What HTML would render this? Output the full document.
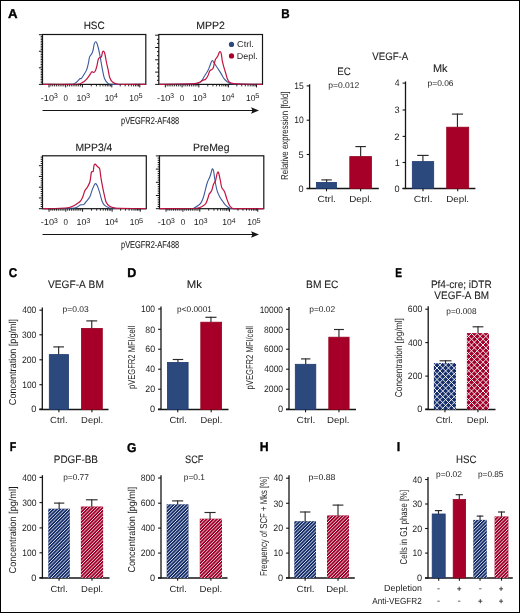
<!DOCTYPE html><html><head><meta charset="utf-8"><style>
html,body{margin:0;padding:0;background:#fff;}
svg{display:block;font-family:"Liberation Sans", sans-serif;will-change:transform;} text{font-kerning:none;text-rendering:geometricPrecision;}
</style></head><body>
<svg width="520" height="613" viewBox="0 0 520 613" font-family='"Liberation Sans", sans-serif' fill="#1c1c1c">
<defs>
</defs>
<rect x="0" y="0" width="520" height="613" fill="#fff"/>
<text x="8.12" y="17.65" font-size="12.8" textLength="9.58" lengthAdjust="spacingAndGlyphs" font-weight="bold" fill="#000" stroke="#000" stroke-width="0.35">A</text>
<text x="281.17" y="17.65" font-size="12.8" textLength="8.41" lengthAdjust="spacingAndGlyphs" font-weight="bold" fill="#000" stroke="#000" stroke-width="0.35">B</text>
<text x="8.67" y="276.65" font-size="12.8" textLength="8.39" lengthAdjust="spacingAndGlyphs" font-weight="bold" fill="#000" stroke="#000" stroke-width="0.35">C</text>
<text x="127.31" y="276.65" font-size="12.8" textLength="9.07" lengthAdjust="spacingAndGlyphs" font-weight="bold" fill="#000" stroke="#000" stroke-width="0.35">D</text>
<text x="395.37" y="276.65" font-size="12.8" textLength="6.78" lengthAdjust="spacingAndGlyphs" font-weight="bold" fill="#000" stroke="#000" stroke-width="0.35">E</text>
<text x="9.64" y="451.35" font-size="12.8" textLength="6.50" lengthAdjust="spacingAndGlyphs" font-weight="bold" fill="#000" stroke="#000" stroke-width="0.35">F</text>
<text x="127.05" y="451.55" font-size="12.8" textLength="9.45" lengthAdjust="spacingAndGlyphs" font-weight="bold" fill="#000" stroke="#000" stroke-width="0.35">G</text>
<text x="259.63" y="451.45" font-size="12.8" textLength="8.84" lengthAdjust="spacingAndGlyphs" font-weight="bold" fill="#000" stroke="#000" stroke-width="0.35">H</text>
<text x="396.71" y="451.45" font-size="12.8" textLength="3.47" lengthAdjust="spacingAndGlyphs" font-weight="bold" fill="#000" stroke="#000" stroke-width="0.35">I</text>
<text x="48.06" y="287.80" font-size="10.8" textLength="55.78" lengthAdjust="spacingAndGlyphs" stroke="#1c1c1c" stroke-width="0.1">VEGF-A BM</text>
<line x1="42.30" y1="307.50" x2="42.30" y2="410.00" stroke="#151515" stroke-width="1.3"/>
<line x1="39.30" y1="409.40" x2="108.50" y2="409.40" stroke="#151515" stroke-width="1.45"/>
<line x1="39.40" y1="310.20" x2="42.30" y2="310.20" stroke="#151515" stroke-width="1.1"/>
<text x="22.20" y="313.40" font-size="9.3" textLength="14.14" lengthAdjust="spacingAndGlyphs" >400</text>
<line x1="39.40" y1="334.80" x2="42.30" y2="334.80" stroke="#151515" stroke-width="1.1"/>
<text x="22.06" y="338.00" font-size="9.3" textLength="14.27" lengthAdjust="spacingAndGlyphs" >300</text>
<line x1="39.40" y1="359.80" x2="42.30" y2="359.80" stroke="#151515" stroke-width="1.1"/>
<text x="21.96" y="363.00" font-size="9.3" textLength="14.38" lengthAdjust="spacingAndGlyphs" >200</text>
<line x1="39.40" y1="384.70" x2="42.30" y2="384.70" stroke="#151515" stroke-width="1.1"/>
<text x="22.25" y="387.90" font-size="9.3" textLength="14.08" lengthAdjust="spacingAndGlyphs" >100</text>
<line x1="39.40" y1="409.10" x2="42.30" y2="409.10" stroke="#151515" stroke-width="1.1"/>
<text x="31.27" y="412.30" font-size="9.3" textLength="5.08" lengthAdjust="spacingAndGlyphs" >0</text>
<rect x="49.30" y="354.60" width="19.20" height="54.80" fill="#2c497d" stroke="#1f3a72" stroke-width="0.8"/>
<line x1="58.65" y1="346.40" x2="58.65" y2="354.50" stroke="#2a2a2a" stroke-width="1.15"/>
<line x1="53.30" y1="346.90" x2="64.00" y2="346.90" stroke="#2a2a2a" stroke-width="1.15"/>
<line x1="58.90" y1="409.40" x2="58.90" y2="412.20" stroke="#151515" stroke-width="1.1"/>
<rect x="81.50" y="328.40" width="20.80" height="81.00" fill="#a70028" stroke="#96001f" stroke-width="0.8"/>
<line x1="91.75" y1="320.40" x2="91.75" y2="328.30" stroke="#2a2a2a" stroke-width="1.15"/>
<line x1="86.30" y1="320.90" x2="97.20" y2="320.90" stroke="#2a2a2a" stroke-width="1.15"/>
<line x1="91.90" y1="409.40" x2="91.90" y2="412.20" stroke="#151515" stroke-width="1.1"/>
<text x="50.11" y="423.30" font-size="8.9" textLength="17.56" lengthAdjust="spacingAndGlyphs" >Ctrl.</text>
<text x="81.13" y="423.30" font-size="8.9" textLength="21.93" lengthAdjust="spacingAndGlyphs" >Depl.</text>
<text x="62.55" y="312.00" font-size="8.3" textLength="26.12" lengthAdjust="spacingAndGlyphs" >p=0.03</text>
<text transform="translate(15.90,404.70) rotate(-90)" x="-0.46" y="0" font-size="10" textLength="86.21" lengthAdjust="spacingAndGlyphs">Concentration [pg/ml]</text>
<text x="186.87" y="287.60" font-size="10.8" textLength="15.11" lengthAdjust="spacingAndGlyphs" stroke="#1c1c1c" stroke-width="0.1">Mk</text>
<line x1="161.00" y1="306.60" x2="161.00" y2="410.00" stroke="#151515" stroke-width="1.3"/>
<line x1="158.00" y1="409.40" x2="228.50" y2="409.40" stroke="#151515" stroke-width="1.45"/>
<line x1="158.10" y1="309.00" x2="161.00" y2="309.00" stroke="#151515" stroke-width="1.1"/>
<text x="140.95" y="312.20" font-size="9.3" textLength="14.08" lengthAdjust="spacingAndGlyphs" >100</text>
<line x1="158.10" y1="329.30" x2="161.00" y2="329.30" stroke="#151515" stroke-width="1.1"/>
<text x="145.33" y="332.50" font-size="9.3" textLength="9.71" lengthAdjust="spacingAndGlyphs" >80</text>
<line x1="158.10" y1="349.20" x2="161.00" y2="349.20" stroke="#151515" stroke-width="1.1"/>
<text x="145.26" y="352.40" font-size="9.3" textLength="9.78" lengthAdjust="spacingAndGlyphs" >60</text>
<line x1="158.10" y1="369.20" x2="161.00" y2="369.20" stroke="#151515" stroke-width="1.1"/>
<text x="145.51" y="372.40" font-size="9.3" textLength="9.52" lengthAdjust="spacingAndGlyphs" >40</text>
<line x1="158.10" y1="389.20" x2="161.00" y2="389.20" stroke="#151515" stroke-width="1.1"/>
<text x="145.27" y="392.40" font-size="9.3" textLength="9.78" lengthAdjust="spacingAndGlyphs" >20</text>
<line x1="158.10" y1="409.10" x2="161.00" y2="409.10" stroke="#151515" stroke-width="1.1"/>
<text x="149.97" y="412.30" font-size="9.3" textLength="5.08" lengthAdjust="spacingAndGlyphs" >0</text>
<rect x="167.40" y="362.40" width="20.70" height="47.00" fill="#2c497d" stroke="#1f3a72" stroke-width="0.8"/>
<line x1="177.95" y1="359.00" x2="177.95" y2="362.30" stroke="#2a2a2a" stroke-width="1.15"/>
<line x1="172.70" y1="359.50" x2="183.20" y2="359.50" stroke="#2a2a2a" stroke-width="1.15"/>
<line x1="177.75" y1="409.40" x2="177.75" y2="412.20" stroke="#151515" stroke-width="1.1"/>
<rect x="200.80" y="322.20" width="20.80" height="87.20" fill="#a70028" stroke="#96001f" stroke-width="0.8"/>
<line x1="210.95" y1="316.80" x2="210.95" y2="322.10" stroke="#2a2a2a" stroke-width="1.15"/>
<line x1="205.40" y1="317.30" x2="216.50" y2="317.30" stroke="#2a2a2a" stroke-width="1.15"/>
<line x1="211.20" y1="409.40" x2="211.20" y2="412.20" stroke="#151515" stroke-width="1.1"/>
<text x="169.42" y="423.30" font-size="8.9" textLength="17.45" lengthAdjust="spacingAndGlyphs" >Ctrl.</text>
<text x="200.43" y="423.30" font-size="8.9" textLength="21.82" lengthAdjust="spacingAndGlyphs" >Depl.</text>
<text x="177.07" y="312.00" font-size="8.3" textLength="34.84" lengthAdjust="spacingAndGlyphs" >p&lt;0.0001</text>
<text transform="translate(134.60,388.50) rotate(-90)" x="-0.49" y="0" font-size="10" textLength="63.20" lengthAdjust="spacingAndGlyphs">pVEGFR2 MFI/cell</text>
<text x="306.06" y="287.50" font-size="10.8" textLength="32.43" lengthAdjust="spacingAndGlyphs" stroke="#1c1c1c" stroke-width="0.1">BM EC</text>
<line x1="289.00" y1="307.10" x2="289.00" y2="410.00" stroke="#151515" stroke-width="1.3"/>
<line x1="286.00" y1="409.40" x2="356.00" y2="409.40" stroke="#151515" stroke-width="1.45"/>
<line x1="286.10" y1="309.30" x2="289.00" y2="309.30" stroke="#151515" stroke-width="1.1"/>
<text x="259.71" y="312.50" font-size="9.3" textLength="23.32" lengthAdjust="spacingAndGlyphs" >10000</text>
<line x1="286.10" y1="329.30" x2="289.00" y2="329.30" stroke="#151515" stroke-width="1.1"/>
<text x="264.10" y="332.50" font-size="9.3" textLength="18.93" lengthAdjust="spacingAndGlyphs" >8000</text>
<line x1="286.10" y1="349.20" x2="289.00" y2="349.20" stroke="#151515" stroke-width="1.1"/>
<text x="264.04" y="352.40" font-size="9.3" textLength="19.00" lengthAdjust="spacingAndGlyphs" >6000</text>
<line x1="286.10" y1="369.20" x2="289.00" y2="369.20" stroke="#151515" stroke-width="1.1"/>
<text x="264.28" y="372.40" font-size="9.3" textLength="18.75" lengthAdjust="spacingAndGlyphs" >4000</text>
<line x1="286.10" y1="389.20" x2="289.00" y2="389.20" stroke="#151515" stroke-width="1.1"/>
<text x="264.04" y="392.40" font-size="9.3" textLength="18.99" lengthAdjust="spacingAndGlyphs" >2000</text>
<line x1="286.10" y1="409.10" x2="289.00" y2="409.10" stroke="#151515" stroke-width="1.1"/>
<text x="277.97" y="412.30" font-size="9.3" textLength="5.08" lengthAdjust="spacingAndGlyphs" >0</text>
<rect x="295.30" y="364.30" width="20.50" height="45.10" fill="#2c497d" stroke="#1f3a72" stroke-width="0.8"/>
<line x1="305.70" y1="358.40" x2="305.70" y2="364.20" stroke="#2a2a2a" stroke-width="1.15"/>
<line x1="301.00" y1="358.90" x2="310.40" y2="358.90" stroke="#2a2a2a" stroke-width="1.15"/>
<line x1="305.55" y1="409.40" x2="305.55" y2="412.20" stroke="#151515" stroke-width="1.1"/>
<rect x="328.80" y="337.20" width="20.30" height="72.20" fill="#a70028" stroke="#96001f" stroke-width="0.8"/>
<line x1="338.95" y1="329.00" x2="338.95" y2="337.10" stroke="#2a2a2a" stroke-width="1.15"/>
<line x1="334.00" y1="329.50" x2="343.90" y2="329.50" stroke="#2a2a2a" stroke-width="1.15"/>
<line x1="338.95" y1="409.40" x2="338.95" y2="412.20" stroke="#151515" stroke-width="1.1"/>
<text x="296.58" y="423.30" font-size="8.9" textLength="18.65" lengthAdjust="spacingAndGlyphs" >Ctrl.</text>
<text x="327.01" y="423.30" font-size="8.9" textLength="22.47" lengthAdjust="spacingAndGlyphs" >Depl.</text>
<text x="309.26" y="312.00" font-size="8.3" textLength="25.97" lengthAdjust="spacingAndGlyphs" >p=0.02</text>
<text transform="translate(252.80,388.90) rotate(-90)" x="-0.49" y="0" font-size="10" textLength="63.40" lengthAdjust="spacingAndGlyphs">pVEGFR2 MFI/cell</text>
<text x="430.88" y="287.80" font-size="10.8" textLength="60.79" lengthAdjust="spacingAndGlyphs" stroke="#1c1c1c" stroke-width="0.1">Pf4-cre; iDTR</text>
<text x="434.36" y="299.20" font-size="10.8" textLength="54.76" lengthAdjust="spacingAndGlyphs" stroke="#1c1c1c" stroke-width="0.1">VEGF-A BM</text>
<line x1="428.20" y1="306.30" x2="428.20" y2="410.10" stroke="#151515" stroke-width="1.3"/>
<line x1="425.20" y1="409.50" x2="495.50" y2="409.50" stroke="#151515" stroke-width="1.45"/>
<line x1="425.30" y1="309.20" x2="428.20" y2="309.20" stroke="#151515" stroke-width="1.1"/>
<text x="407.85" y="312.40" font-size="9.3" textLength="14.38" lengthAdjust="spacingAndGlyphs" >600</text>
<line x1="425.30" y1="342.60" x2="428.20" y2="342.60" stroke="#151515" stroke-width="1.1"/>
<text x="408.10" y="345.80" font-size="9.3" textLength="14.14" lengthAdjust="spacingAndGlyphs" >400</text>
<line x1="425.30" y1="376.10" x2="428.20" y2="376.10" stroke="#151515" stroke-width="1.1"/>
<text x="407.86" y="379.30" font-size="9.3" textLength="14.38" lengthAdjust="spacingAndGlyphs" >200</text>
<line x1="425.30" y1="409.10" x2="428.20" y2="409.10" stroke="#151515" stroke-width="1.1"/>
<text x="417.17" y="412.30" font-size="9.3" textLength="5.08" lengthAdjust="spacingAndGlyphs" >0</text>
<clipPath id="c1"><rect x="433.90" y="363.10" width="22.10" height="46.40"/></clipPath>
<rect x="433.90" y="363.10" width="22.10" height="46.40" fill="#17306c"/>
<g clip-path="url(#c1)"><path d="M377.25,410.50L425.65,362.10M383.00,410.50L431.40,362.10M388.75,410.50L437.15,362.10M394.50,410.50L442.90,362.10M400.25,410.50L448.65,362.10M406.00,410.50L454.40,362.10M411.75,410.50L460.15,362.10M417.50,410.50L465.90,362.10M423.25,410.50L471.65,362.10M429.00,410.50L477.40,362.10M434.75,410.50L483.15,362.10M440.50,410.50L488.90,362.10M446.25,410.50L494.65,362.10M452.00,410.50L500.40,362.10M457.75,410.50L506.15,362.10M379.35,362.10L427.75,410.50M385.10,362.10L433.50,410.50M390.85,362.10L439.25,410.50M396.60,362.10L445.00,410.50M402.35,362.10L450.75,410.50M408.10,362.10L456.50,410.50M413.85,362.10L462.25,410.50M419.60,362.10L468.00,410.50M425.35,362.10L473.75,410.50M431.10,362.10L479.50,410.50M436.85,362.10L485.25,410.50M442.60,362.10L491.00,410.50M448.35,362.10L496.75,410.50M454.10,362.10L502.50,410.50M459.85,362.10L508.25,410.50" stroke="#f4f5f9" stroke-width="0.95" fill="none"/></g>
<line x1="445.55" y1="360.30" x2="445.55" y2="363.40" stroke="#2a2a2a" stroke-width="1.15"/>
<line x1="439.60" y1="360.80" x2="451.50" y2="360.80" stroke="#2a2a2a" stroke-width="1.15"/>
<line x1="444.95" y1="409.50" x2="444.95" y2="412.30" stroke="#151515" stroke-width="1.1"/>
<clipPath id="c2"><rect x="466.90" y="333.10" width="22.10" height="76.40"/></clipPath>
<rect x="466.90" y="333.10" width="22.10" height="76.40" fill="#a3002a"/>
<g clip-path="url(#c2)"><path d="M383.00,410.50L461.40,332.10M388.75,410.50L467.15,332.10M394.50,410.50L472.90,332.10M400.25,410.50L478.65,332.10M406.00,410.50L484.40,332.10M411.75,410.50L490.15,332.10M417.50,410.50L495.90,332.10M423.25,410.50L501.65,332.10M429.00,410.50L507.40,332.10M434.75,410.50L513.15,332.10M440.50,410.50L518.90,332.10M446.25,410.50L524.65,332.10M452.00,410.50L530.40,332.10M457.75,410.50L536.15,332.10M463.50,410.50L541.90,332.10M469.25,410.50L547.65,332.10M475.00,410.50L553.40,332.10M480.75,410.50L559.15,332.10M486.50,410.50L564.90,332.10M492.25,410.50L570.65,332.10M378.10,332.10L456.50,410.50M383.85,332.10L462.25,410.50M389.60,332.10L468.00,410.50M395.35,332.10L473.75,410.50M401.10,332.10L479.50,410.50M406.85,332.10L485.25,410.50M412.60,332.10L491.00,410.50M418.35,332.10L496.75,410.50M424.10,332.10L502.50,410.50M429.85,332.10L508.25,410.50M435.60,332.10L514.00,410.50M441.35,332.10L519.75,410.50M447.10,332.10L525.50,410.50M452.85,332.10L531.25,410.50M458.60,332.10L537.00,410.50M464.35,332.10L542.75,410.50M470.10,332.10L548.50,410.50M475.85,332.10L554.25,410.50M481.60,332.10L560.00,410.50M487.35,332.10L565.75,410.50M493.10,332.10L571.50,410.50" stroke="#f4f5f9" stroke-width="0.95" fill="none"/></g>
<line x1="478.00" y1="326.30" x2="478.00" y2="333.40" stroke="#2a2a2a" stroke-width="1.15"/>
<line x1="472.60" y1="326.80" x2="483.40" y2="326.80" stroke="#2a2a2a" stroke-width="1.15"/>
<line x1="477.95" y1="409.50" x2="477.95" y2="412.30" stroke="#151515" stroke-width="1.1"/>
<text x="435.72" y="423.30" font-size="8.9" textLength="17.24" lengthAdjust="spacingAndGlyphs" >Ctrl.</text>
<text x="466.72" y="423.30" font-size="8.9" textLength="22.25" lengthAdjust="spacingAndGlyphs" >Depl.</text>
<text x="446.37" y="313.80" font-size="8.3" textLength="30.19" lengthAdjust="spacingAndGlyphs" >p=0.008</text>
<text transform="translate(401.50,396.80) rotate(-90)" x="-0.42" y="0" font-size="10" textLength="79.01" lengthAdjust="spacingAndGlyphs">Concentration [pg/ml]</text>
<text x="53.78" y="462.70" font-size="10.8" textLength="44.24" lengthAdjust="spacingAndGlyphs" stroke="#1c1c1c" stroke-width="0.1">PDGF-BB</text>
<line x1="42.40" y1="475.20" x2="42.40" y2="578.50" stroke="#151515" stroke-width="1.3"/>
<line x1="39.40" y1="577.90" x2="109.50" y2="577.90" stroke="#151515" stroke-width="1.45"/>
<line x1="39.50" y1="477.40" x2="42.40" y2="477.40" stroke="#151515" stroke-width="1.1"/>
<text x="22.30" y="480.60" font-size="9.3" textLength="14.14" lengthAdjust="spacingAndGlyphs" >400</text>
<line x1="39.50" y1="502.60" x2="42.40" y2="502.60" stroke="#151515" stroke-width="1.1"/>
<text x="22.16" y="505.80" font-size="9.3" textLength="14.27" lengthAdjust="spacingAndGlyphs" >300</text>
<line x1="39.50" y1="527.90" x2="42.40" y2="527.90" stroke="#151515" stroke-width="1.1"/>
<text x="22.06" y="531.10" font-size="9.3" textLength="14.38" lengthAdjust="spacingAndGlyphs" >200</text>
<line x1="39.50" y1="552.80" x2="42.40" y2="552.80" stroke="#151515" stroke-width="1.1"/>
<text x="22.35" y="556.00" font-size="9.3" textLength="14.08" lengthAdjust="spacingAndGlyphs" >100</text>
<line x1="39.50" y1="577.70" x2="42.40" y2="577.70" stroke="#151515" stroke-width="1.1"/>
<text x="31.37" y="580.90" font-size="9.3" textLength="5.08" lengthAdjust="spacingAndGlyphs" >0</text>
<clipPath id="c3"><rect x="48.30" y="508.70" width="21.50" height="69.20"/></clipPath>
<rect x="48.30" y="508.70" width="21.50" height="69.20" fill="#17306c"/>
<g clip-path="url(#c3)"><path d="M-28.10,578.90L43.10,507.70M-24.70,578.90L46.50,507.70M-21.30,578.90L49.90,507.70M-17.90,578.90L53.30,507.70M-14.50,578.90L56.70,507.70M-11.10,578.90L60.10,507.70M-7.70,578.90L63.50,507.70M-4.30,578.90L66.90,507.70M-0.90,578.90L70.30,507.70M2.50,578.90L73.70,507.70M5.90,578.90L77.10,507.70M9.30,578.90L80.50,507.70M12.70,578.90L83.90,507.70M16.10,578.90L87.30,507.70M19.50,578.90L90.70,507.70M22.90,578.90L94.10,507.70M26.30,578.90L97.50,507.70M29.70,578.90L100.90,507.70M33.10,578.90L104.30,507.70M36.50,578.90L107.70,507.70M39.90,578.90L111.10,507.70M43.30,578.90L114.50,507.70M46.70,578.90L117.90,507.70M50.10,578.90L121.30,507.70M53.50,578.90L124.70,507.70M56.90,578.90L128.10,507.70M60.30,578.90L131.50,507.70M63.70,578.90L134.90,507.70M67.10,578.90L138.30,507.70M70.50,578.90L141.70,507.70" stroke="#f4f5f9" stroke-width="0.87" fill="none"/></g>
<line x1="59.15" y1="502.60" x2="59.15" y2="509.00" stroke="#2a2a2a" stroke-width="1.15"/>
<line x1="54.00" y1="503.10" x2="64.30" y2="503.10" stroke="#2a2a2a" stroke-width="1.15"/>
<line x1="59.05" y1="577.90" x2="59.05" y2="580.70" stroke="#151515" stroke-width="1.1"/>
<clipPath id="c4"><rect x="80.90" y="506.50" width="22.20" height="71.40"/></clipPath>
<rect x="80.90" y="506.50" width="22.20" height="71.40" fill="#a3002a"/>
<g clip-path="url(#c4)"><path d="M2.50,578.90L75.90,505.50M5.90,578.90L79.30,505.50M9.30,578.90L82.70,505.50M12.70,578.90L86.10,505.50M16.10,578.90L89.50,505.50M19.50,578.90L92.90,505.50M22.90,578.90L96.30,505.50M26.30,578.90L99.70,505.50M29.70,578.90L103.10,505.50M33.10,578.90L106.50,505.50M36.50,578.90L109.90,505.50M39.90,578.90L113.30,505.50M43.30,578.90L116.70,505.50M46.70,578.90L120.10,505.50M50.10,578.90L123.50,505.50M53.50,578.90L126.90,505.50M56.90,578.90L130.30,505.50M60.30,578.90L133.70,505.50M63.70,578.90L137.10,505.50M67.10,578.90L140.50,505.50M70.50,578.90L143.90,505.50M73.90,578.90L147.30,505.50M77.30,578.90L150.70,505.50M80.70,578.90L154.10,505.50M84.10,578.90L157.50,505.50M87.50,578.90L160.90,505.50M90.90,578.90L164.30,505.50M94.30,578.90L167.70,505.50M97.70,578.90L171.10,505.50M101.10,578.90L174.50,505.50M104.50,578.90L177.90,505.50" stroke="#f4f5f9" stroke-width="0.87" fill="none"/></g>
<line x1="91.75" y1="499.30" x2="91.75" y2="506.80" stroke="#2a2a2a" stroke-width="1.15"/>
<line x1="85.90" y1="499.80" x2="97.60" y2="499.80" stroke="#2a2a2a" stroke-width="1.15"/>
<line x1="92.00" y1="577.90" x2="92.00" y2="580.70" stroke="#151515" stroke-width="1.1"/>
<text x="50.52" y="591.80" font-size="8.9" textLength="17.24" lengthAdjust="spacingAndGlyphs" >Ctrl.</text>
<text x="81.13" y="591.80" font-size="8.9" textLength="22.04" lengthAdjust="spacingAndGlyphs" >Depl.</text>
<text x="63.16" y="480.10" font-size="8.3" textLength="25.65" lengthAdjust="spacingAndGlyphs" >p=0.77</text>
<text transform="translate(15.90,573.00) rotate(-90)" x="-0.46" y="0" font-size="10" textLength="87.02" lengthAdjust="spacingAndGlyphs">Concentration [pg/ml]</text>
<text x="185.08" y="462.70" font-size="10.8" textLength="18.39" lengthAdjust="spacingAndGlyphs" stroke="#1c1c1c" stroke-width="0.1">SCF</text>
<line x1="161.00" y1="475.20" x2="161.00" y2="578.60" stroke="#151515" stroke-width="1.3"/>
<line x1="158.00" y1="578.00" x2="227.50" y2="578.00" stroke="#151515" stroke-width="1.45"/>
<line x1="158.10" y1="478.00" x2="161.00" y2="478.00" stroke="#151515" stroke-width="1.1"/>
<text x="140.72" y="481.20" font-size="9.3" textLength="14.32" lengthAdjust="spacingAndGlyphs" >800</text>
<line x1="158.10" y1="503.20" x2="161.00" y2="503.20" stroke="#151515" stroke-width="1.1"/>
<text x="140.65" y="506.40" font-size="9.3" textLength="14.38" lengthAdjust="spacingAndGlyphs" >600</text>
<line x1="158.10" y1="528.10" x2="161.00" y2="528.10" stroke="#151515" stroke-width="1.1"/>
<text x="140.90" y="531.30" font-size="9.3" textLength="14.14" lengthAdjust="spacingAndGlyphs" >400</text>
<line x1="158.10" y1="553.10" x2="161.00" y2="553.10" stroke="#151515" stroke-width="1.1"/>
<text x="140.66" y="556.30" font-size="9.3" textLength="14.38" lengthAdjust="spacingAndGlyphs" >200</text>
<line x1="158.10" y1="577.80" x2="161.00" y2="577.80" stroke="#151515" stroke-width="1.1"/>
<text x="149.97" y="581.00" font-size="9.3" textLength="5.08" lengthAdjust="spacingAndGlyphs" >0</text>
<clipPath id="c5"><rect x="166.70" y="504.30" width="21.80" height="73.70"/></clipPath>
<rect x="166.70" y="504.30" width="21.80" height="73.70" fill="#17306c"/>
<g clip-path="url(#c5)"><path d="M87.40,579.00L163.10,503.30M90.80,579.00L166.50,503.30M94.20,579.00L169.90,503.30M97.60,579.00L173.30,503.30M101.00,579.00L176.70,503.30M104.40,579.00L180.10,503.30M107.80,579.00L183.50,503.30M111.20,579.00L186.90,503.30M114.60,579.00L190.30,503.30M118.00,579.00L193.70,503.30M121.40,579.00L197.10,503.30M124.80,579.00L200.50,503.30M128.20,579.00L203.90,503.30M131.60,579.00L207.30,503.30M135.00,579.00L210.70,503.30M138.40,579.00L214.10,503.30M141.80,579.00L217.50,503.30M145.20,579.00L220.90,503.30M148.60,579.00L224.30,503.30M152.00,579.00L227.70,503.30M155.40,579.00L231.10,503.30M158.80,579.00L234.50,503.30M162.20,579.00L237.90,503.30M165.60,579.00L241.30,503.30M169.00,579.00L244.70,503.30M172.40,579.00L248.10,503.30M175.80,579.00L251.50,503.30M179.20,579.00L254.90,503.30M182.60,579.00L258.30,503.30M186.00,579.00L261.70,503.30M189.40,579.00L265.10,503.30" stroke="#f4f5f9" stroke-width="0.87" fill="none"/></g>
<line x1="177.65" y1="500.40" x2="177.65" y2="504.60" stroke="#2a2a2a" stroke-width="1.15"/>
<line x1="172.10" y1="500.90" x2="183.20" y2="500.90" stroke="#2a2a2a" stroke-width="1.15"/>
<line x1="177.60" y1="578.00" x2="177.60" y2="580.80" stroke="#151515" stroke-width="1.1"/>
<clipPath id="c6"><rect x="199.80" y="518.70" width="22.20" height="59.30"/></clipPath>
<rect x="199.80" y="518.70" width="22.20" height="59.30" fill="#a3002a"/>
<g clip-path="url(#c6)"><path d="M135.00,579.00L196.30,517.70M138.40,579.00L199.70,517.70M141.80,579.00L203.10,517.70M145.20,579.00L206.50,517.70M148.60,579.00L209.90,517.70M152.00,579.00L213.30,517.70M155.40,579.00L216.70,517.70M158.80,579.00L220.10,517.70M162.20,579.00L223.50,517.70M165.60,579.00L226.90,517.70M169.00,579.00L230.30,517.70M172.40,579.00L233.70,517.70M175.80,579.00L237.10,517.70M179.20,579.00L240.50,517.70M182.60,579.00L243.90,517.70M186.00,579.00L247.30,517.70M189.40,579.00L250.70,517.70M192.80,579.00L254.10,517.70M196.20,579.00L257.50,517.70M199.60,579.00L260.90,517.70M203.00,579.00L264.30,517.70M206.40,579.00L267.70,517.70M209.80,579.00L271.10,517.70M213.20,579.00L274.50,517.70M216.60,579.00L277.90,517.70M220.00,579.00L281.30,517.70M223.40,579.00L284.70,517.70" stroke="#f4f5f9" stroke-width="0.87" fill="none"/></g>
<line x1="210.05" y1="512.00" x2="210.05" y2="519.00" stroke="#2a2a2a" stroke-width="1.15"/>
<line x1="204.50" y1="512.50" x2="215.60" y2="512.50" stroke="#2a2a2a" stroke-width="1.15"/>
<line x1="210.90" y1="578.00" x2="210.90" y2="580.80" stroke="#151515" stroke-width="1.1"/>
<text x="169.42" y="591.80" font-size="8.9" textLength="17.45" lengthAdjust="spacingAndGlyphs" >Ctrl.</text>
<text x="199.61" y="591.80" font-size="8.9" textLength="22.47" lengthAdjust="spacingAndGlyphs" >Depl.</text>
<text x="183.76" y="480.10" font-size="8.3" textLength="21.15" lengthAdjust="spacingAndGlyphs" >p=0.1</text>
<text transform="translate(134.70,572.00) rotate(-90)" x="-0.46" y="0" font-size="10" textLength="85.80" lengthAdjust="spacingAndGlyphs">Concentration [pg/ml]</text>
<line x1="289.00" y1="475.20" x2="289.00" y2="578.60" stroke="#151515" stroke-width="1.3"/>
<line x1="286.00" y1="578.00" x2="354.80" y2="578.00" stroke="#151515" stroke-width="1.45"/>
<line x1="286.10" y1="478.20" x2="289.00" y2="478.20" stroke="#151515" stroke-width="1.1"/>
<text x="273.51" y="481.40" font-size="9.3" textLength="9.52" lengthAdjust="spacingAndGlyphs" >40</text>
<line x1="286.10" y1="503.30" x2="289.00" y2="503.30" stroke="#151515" stroke-width="1.1"/>
<text x="273.38" y="506.50" font-size="9.3" textLength="9.66" lengthAdjust="spacingAndGlyphs" >30</text>
<line x1="286.10" y1="528.20" x2="289.00" y2="528.20" stroke="#151515" stroke-width="1.1"/>
<text x="273.27" y="531.40" font-size="9.3" textLength="9.78" lengthAdjust="spacingAndGlyphs" >20</text>
<line x1="286.10" y1="553.10" x2="289.00" y2="553.10" stroke="#151515" stroke-width="1.1"/>
<text x="273.56" y="556.30" font-size="9.3" textLength="9.47" lengthAdjust="spacingAndGlyphs" >10</text>
<line x1="286.10" y1="577.80" x2="289.00" y2="577.80" stroke="#151515" stroke-width="1.1"/>
<text x="277.97" y="581.00" font-size="9.3" textLength="5.08" lengthAdjust="spacingAndGlyphs" >0</text>
<clipPath id="c7"><rect x="294.30" y="521.20" width="21.70" height="56.80"/></clipPath>
<rect x="294.30" y="521.20" width="21.70" height="56.80" fill="#17306c"/>
<g clip-path="url(#c7)"><path d="M230.20,579.00L289.00,520.20M233.60,579.00L292.40,520.20M237.00,579.00L295.80,520.20M240.40,579.00L299.20,520.20M243.80,579.00L302.60,520.20M247.20,579.00L306.00,520.20M250.60,579.00L309.40,520.20M254.00,579.00L312.80,520.20M257.40,579.00L316.20,520.20M260.80,579.00L319.60,520.20M264.20,579.00L323.00,520.20M267.60,579.00L326.40,520.20M271.00,579.00L329.80,520.20M274.40,579.00L333.20,520.20M277.80,579.00L336.60,520.20M281.20,579.00L340.00,520.20M284.60,579.00L343.40,520.20M288.00,579.00L346.80,520.20M291.40,579.00L350.20,520.20M294.80,579.00L353.60,520.20M298.20,579.00L357.00,520.20M301.60,579.00L360.40,520.20M305.00,579.00L363.80,520.20M308.40,579.00L367.20,520.20M311.80,579.00L370.60,520.20M315.20,579.00L374.00,520.20" stroke="#f4f5f9" stroke-width="0.87" fill="none"/></g>
<line x1="305.15" y1="511.50" x2="305.15" y2="521.50" stroke="#2a2a2a" stroke-width="1.15"/>
<line x1="299.90" y1="512.00" x2="310.40" y2="512.00" stroke="#2a2a2a" stroke-width="1.15"/>
<line x1="305.15" y1="578.00" x2="305.15" y2="580.80" stroke="#151515" stroke-width="1.1"/>
<clipPath id="c8"><rect x="327.00" y="515.40" width="22.00" height="62.60"/></clipPath>
<rect x="327.00" y="515.40" width="22.00" height="62.60" fill="#a3002a"/>
<g clip-path="url(#c8)"><path d="M257.40,579.00L322.00,514.40M260.80,579.00L325.40,514.40M264.20,579.00L328.80,514.40M267.60,579.00L332.20,514.40M271.00,579.00L335.60,514.40M274.40,579.00L339.00,514.40M277.80,579.00L342.40,514.40M281.20,579.00L345.80,514.40M284.60,579.00L349.20,514.40M288.00,579.00L352.60,514.40M291.40,579.00L356.00,514.40M294.80,579.00L359.40,514.40M298.20,579.00L362.80,514.40M301.60,579.00L366.20,514.40M305.00,579.00L369.60,514.40M308.40,579.00L373.00,514.40M311.80,579.00L376.40,514.40M315.20,579.00L379.80,514.40M318.60,579.00L383.20,514.40M322.00,579.00L386.60,514.40M325.40,579.00L390.00,514.40M328.80,579.00L393.40,514.40M332.20,579.00L396.80,514.40M335.60,579.00L400.20,514.40M339.00,579.00L403.60,514.40M342.40,579.00L407.00,514.40M345.80,579.00L410.40,514.40M349.20,579.00L413.80,514.40" stroke="#f4f5f9" stroke-width="0.87" fill="none"/></g>
<line x1="338.00" y1="504.60" x2="338.00" y2="515.70" stroke="#2a2a2a" stroke-width="1.15"/>
<line x1="332.60" y1="505.10" x2="343.40" y2="505.10" stroke="#2a2a2a" stroke-width="1.15"/>
<line x1="338.00" y1="578.00" x2="338.00" y2="580.80" stroke="#151515" stroke-width="1.1"/>
<text x="296.60" y="591.80" font-size="8.9" textLength="17.99" lengthAdjust="spacingAndGlyphs" >Ctrl.</text>
<text x="326.22" y="591.80" font-size="8.9" textLength="22.25" lengthAdjust="spacingAndGlyphs" >Depl.</text>
<text x="308.44" y="480.10" font-size="8.3" textLength="27.05" lengthAdjust="spacingAndGlyphs" >p=0.88</text>
<text transform="translate(267.30,575.30) rotate(-90)" x="-0.63" y="0" font-size="10" textLength="99.09" lengthAdjust="spacingAndGlyphs">Frequency of SCF + Mks [%]</text>
<text x="456.01" y="462.80" font-size="10.8" textLength="20.36" lengthAdjust="spacingAndGlyphs" stroke="#1c1c1c" stroke-width="0.1">HSC</text>
<line x1="428.00" y1="476.90" x2="428.00" y2="578.50" stroke="#151515" stroke-width="1.3"/>
<line x1="425.00" y1="577.90" x2="512.80" y2="577.90" stroke="#151515" stroke-width="1.45"/>
<line x1="425.10" y1="479.50" x2="428.00" y2="479.50" stroke="#151515" stroke-width="1.1"/>
<text x="412.51" y="482.70" font-size="9.3" textLength="9.52" lengthAdjust="spacingAndGlyphs" >40</text>
<line x1="425.10" y1="504.00" x2="428.00" y2="504.00" stroke="#151515" stroke-width="1.1"/>
<text x="412.38" y="507.20" font-size="9.3" textLength="9.66" lengthAdjust="spacingAndGlyphs" >30</text>
<line x1="425.10" y1="528.50" x2="428.00" y2="528.50" stroke="#151515" stroke-width="1.1"/>
<text x="412.27" y="531.70" font-size="9.3" textLength="9.78" lengthAdjust="spacingAndGlyphs" >20</text>
<line x1="425.10" y1="553.10" x2="428.00" y2="553.10" stroke="#151515" stroke-width="1.1"/>
<text x="412.56" y="556.30" font-size="9.3" textLength="9.47" lengthAdjust="spacingAndGlyphs" >10</text>
<line x1="425.10" y1="577.90" x2="428.00" y2="577.90" stroke="#151515" stroke-width="1.1"/>
<text x="416.97" y="581.10" font-size="9.3" textLength="5.08" lengthAdjust="spacingAndGlyphs" >0</text>
<rect x="432.20" y="514.00" width="13.00" height="63.90" fill="#2c497d" stroke="#1f3a72" stroke-width="0.8"/>
<line x1="438.50" y1="510.10" x2="438.50" y2="513.90" stroke="#2a2a2a" stroke-width="1.15"/>
<line x1="434.90" y1="510.60" x2="442.10" y2="510.60" stroke="#2a2a2a" stroke-width="1.15"/>
<line x1="438.70" y1="577.90" x2="438.70" y2="580.70" stroke="#151515" stroke-width="1.1"/>
<rect x="453.20" y="499.50" width="12.40" height="78.40" fill="#a70028" stroke="#96001f" stroke-width="0.8"/>
<line x1="459.30" y1="494.20" x2="459.30" y2="499.40" stroke="#2a2a2a" stroke-width="1.15"/>
<line x1="455.70" y1="494.70" x2="462.90" y2="494.70" stroke="#2a2a2a" stroke-width="1.15"/>
<line x1="459.40" y1="577.90" x2="459.40" y2="580.70" stroke="#151515" stroke-width="1.1"/>
<clipPath id="c9"><rect x="473.30" y="519.90" width="13.50" height="58.00"/></clipPath>
<rect x="473.30" y="519.90" width="13.50" height="58.00" fill="#17306c"/>
<g clip-path="url(#c9)"><path d="M410.50,578.90L470.50,518.90M413.90,578.90L473.90,518.90M417.30,578.90L477.30,518.90M420.70,578.90L480.70,518.90M424.10,578.90L484.10,518.90M427.50,578.90L487.50,518.90M430.90,578.90L490.90,518.90M434.30,578.90L494.30,518.90M437.70,578.90L497.70,518.90M441.10,578.90L501.10,518.90M444.50,578.90L504.50,518.90M447.90,578.90L507.90,518.90M451.30,578.90L511.30,518.90M454.70,578.90L514.70,518.90M458.10,578.90L518.10,518.90M461.50,578.90L521.50,518.90M464.90,578.90L524.90,518.90M468.30,578.90L528.30,518.90M471.70,578.90L531.70,518.90M475.10,578.90L535.10,518.90M478.50,578.90L538.50,518.90M481.90,578.90L541.90,518.90M485.30,578.90L545.30,518.90M488.70,578.90L548.70,518.90" stroke="#f4f5f9" stroke-width="0.87" fill="none"/></g>
<line x1="480.05" y1="515.60" x2="480.05" y2="520.20" stroke="#2a2a2a" stroke-width="1.15"/>
<line x1="476.70" y1="516.10" x2="483.40" y2="516.10" stroke="#2a2a2a" stroke-width="1.15"/>
<line x1="480.05" y1="577.90" x2="480.05" y2="580.70" stroke="#151515" stroke-width="1.1"/>
<clipPath id="c10"><rect x="494.60" y="516.40" width="13.80" height="61.50"/></clipPath>
<rect x="494.60" y="516.40" width="13.80" height="61.50" fill="#a3002a"/>
<g clip-path="url(#c10)"><path d="M427.50,578.90L491.00,515.40M430.90,578.90L494.40,515.40M434.30,578.90L497.80,515.40M437.70,578.90L501.20,515.40M441.10,578.90L504.60,515.40M444.50,578.90L508.00,515.40M447.90,578.90L511.40,515.40M451.30,578.90L514.80,515.40M454.70,578.90L518.20,515.40M458.10,578.90L521.60,515.40M461.50,578.90L525.00,515.40M464.90,578.90L528.40,515.40M468.30,578.90L531.80,515.40M471.70,578.90L535.20,515.40M475.10,578.90L538.60,515.40M478.50,578.90L542.00,515.40M481.90,578.90L545.40,515.40M485.30,578.90L548.80,515.40M488.70,578.90L552.20,515.40M492.10,578.90L555.60,515.40M495.50,578.90L559.00,515.40M498.90,578.90L562.40,515.40M502.30,578.90L565.80,515.40M505.70,578.90L569.20,515.40M509.10,578.90L572.60,515.40" stroke="#f4f5f9" stroke-width="0.87" fill="none"/></g>
<line x1="501.50" y1="511.50" x2="501.50" y2="516.70" stroke="#2a2a2a" stroke-width="1.15"/>
<line x1="498.00" y1="512.00" x2="505.00" y2="512.00" stroke="#2a2a2a" stroke-width="1.15"/>
<line x1="501.50" y1="577.90" x2="501.50" y2="580.70" stroke="#151515" stroke-width="1.1"/>
<text x="435.96" y="476.80" font-size="8.3" textLength="25.97" lengthAdjust="spacingAndGlyphs" >p=0.02</text>
<text x="477.97" y="476.80" font-size="8.3" textLength="25.48" lengthAdjust="spacingAndGlyphs" >p=0.85</text>
<text x="384.07" y="591.30" font-size="8.9" textLength="37.82" lengthAdjust="spacingAndGlyphs" >Depletion</text>
<text x="372.28" y="603.70" font-size="8.9" textLength="49.43" lengthAdjust="spacingAndGlyphs" >Anti-VEGFR2</text>
<line x1="437.30" y1="588.80" x2="439.70" y2="588.80" stroke="#555" stroke-width="0.9"/>
<line x1="437.30" y1="601.20" x2="439.70" y2="601.20" stroke="#555" stroke-width="0.9"/>
<line x1="457.20" y1="588.80" x2="461.20" y2="588.80" stroke="#333" stroke-width="0.9"/>
<line x1="459.20" y1="586.70" x2="459.20" y2="590.90" stroke="#333" stroke-width="0.9"/>
<line x1="458.00" y1="601.20" x2="460.40" y2="601.20" stroke="#555" stroke-width="0.9"/>
<line x1="479.10" y1="588.80" x2="481.50" y2="588.80" stroke="#555" stroke-width="0.9"/>
<line x1="478.30" y1="601.20" x2="482.30" y2="601.20" stroke="#333" stroke-width="0.9"/>
<line x1="480.30" y1="599.10" x2="480.30" y2="603.30" stroke="#333" stroke-width="0.9"/>
<line x1="499.10" y1="588.80" x2="503.10" y2="588.80" stroke="#333" stroke-width="0.9"/>
<line x1="501.10" y1="586.70" x2="501.10" y2="590.90" stroke="#333" stroke-width="0.9"/>
<line x1="499.10" y1="601.20" x2="503.10" y2="601.20" stroke="#333" stroke-width="0.9"/>
<line x1="501.10" y1="599.10" x2="501.10" y2="603.30" stroke="#333" stroke-width="0.9"/>
<text transform="translate(407.10,564.00) rotate(-90)" x="-0.39" y="0" font-size="10" textLength="74.45" lengthAdjust="spacingAndGlyphs">Cells in G1 phase [%]</text>
<text x="372.26" y="60.00" font-size="10.8" textLength="35.96" lengthAdjust="spacingAndGlyphs" stroke="#1c1c1c" stroke-width="0.1">VEGF-A</text>
<text x="337.20" y="74.50" font-size="10.8" textLength="13.46" lengthAdjust="spacingAndGlyphs" stroke="#1c1c1c" stroke-width="0.1">EC</text>
<line x1="309.60" y1="84.30" x2="309.60" y2="189.10" stroke="#151515" stroke-width="1.3"/>
<line x1="306.60" y1="188.50" x2="378.80" y2="188.50" stroke="#151515" stroke-width="1.45"/>
<line x1="306.70" y1="85.90" x2="309.60" y2="85.90" stroke="#151515" stroke-width="1.1"/>
<text x="294.16" y="89.10" font-size="9.3" textLength="9.50" lengthAdjust="spacingAndGlyphs" >15</text>
<line x1="306.70" y1="120.20" x2="309.60" y2="120.20" stroke="#151515" stroke-width="1.1"/>
<text x="294.16" y="123.40" font-size="9.3" textLength="9.47" lengthAdjust="spacingAndGlyphs" >10</text>
<line x1="306.70" y1="154.50" x2="309.60" y2="154.50" stroke="#151515" stroke-width="1.1"/>
<text x="298.56" y="157.70" font-size="9.3" textLength="5.13" lengthAdjust="spacingAndGlyphs" >5</text>
<line x1="306.70" y1="188.50" x2="309.60" y2="188.50" stroke="#151515" stroke-width="1.1"/>
<text x="298.57" y="191.70" font-size="9.3" textLength="5.08" lengthAdjust="spacingAndGlyphs" >0</text>
<rect x="316.50" y="182.40" width="20.00" height="6.10" fill="#2c497d" stroke="#1f3a72" stroke-width="0.8"/>
<line x1="326.60" y1="179.40" x2="326.60" y2="182.30" stroke="#2a2a2a" stroke-width="1.15"/>
<line x1="321.40" y1="179.90" x2="331.80" y2="179.90" stroke="#2a2a2a" stroke-width="1.15"/>
<line x1="326.50" y1="188.50" x2="326.50" y2="191.30" stroke="#151515" stroke-width="1.1"/>
<rect x="349.80" y="156.60" width="21.70" height="31.90" fill="#a70028" stroke="#96001f" stroke-width="0.8"/>
<line x1="360.65" y1="146.10" x2="360.65" y2="156.50" stroke="#2a2a2a" stroke-width="1.15"/>
<line x1="355.40" y1="146.60" x2="365.90" y2="146.60" stroke="#2a2a2a" stroke-width="1.15"/>
<line x1="360.65" y1="188.50" x2="360.65" y2="191.30" stroke="#151515" stroke-width="1.1"/>
<text x="317.49" y="202.40" font-size="8.9" textLength="18.43" lengthAdjust="spacingAndGlyphs" >Ctrl.</text>
<text x="349.20" y="202.40" font-size="8.9" textLength="22.90" lengthAdjust="spacingAndGlyphs" >Depl.</text>
<text x="328.25" y="88.30" font-size="8.3" textLength="31.08" lengthAdjust="spacingAndGlyphs" >p=0.012</text>
<text transform="translate(288.00,179.30) rotate(-90)" x="-0.65" y="0" font-size="10" textLength="88.51" lengthAdjust="spacingAndGlyphs">Relative expression [fold]</text>
<text x="432.90" y="72.20" font-size="10.8" textLength="14.58" lengthAdjust="spacingAndGlyphs" stroke="#1c1c1c" stroke-width="0.1">Mk</text>
<line x1="405.50" y1="81.50" x2="405.50" y2="189.10" stroke="#151515" stroke-width="1.3"/>
<line x1="402.50" y1="188.50" x2="475.40" y2="188.50" stroke="#151515" stroke-width="1.45"/>
<line x1="402.60" y1="83.10" x2="405.50" y2="83.10" stroke="#151515" stroke-width="1.1"/>
<text x="394.63" y="86.30" font-size="9.3" textLength="4.82" lengthAdjust="spacingAndGlyphs" >4</text>
<line x1="402.60" y1="110.00" x2="405.50" y2="110.00" stroke="#151515" stroke-width="1.1"/>
<text x="394.48" y="113.20" font-size="9.3" textLength="5.13" lengthAdjust="spacingAndGlyphs" >3</text>
<line x1="402.60" y1="136.40" x2="405.50" y2="136.40" stroke="#151515" stroke-width="1.1"/>
<text x="394.35" y="139.60" font-size="9.3" textLength="5.33" lengthAdjust="spacingAndGlyphs" >2</text>
<line x1="402.60" y1="162.50" x2="405.50" y2="162.50" stroke="#151515" stroke-width="1.1"/>
<text x="394.65" y="165.70" font-size="9.3" textLength="4.99" lengthAdjust="spacingAndGlyphs" >1</text>
<line x1="402.60" y1="188.50" x2="405.50" y2="188.50" stroke="#151515" stroke-width="1.1"/>
<text x="394.47" y="191.70" font-size="9.3" textLength="5.08" lengthAdjust="spacingAndGlyphs" >0</text>
<rect x="412.30" y="161.60" width="21.40" height="26.90" fill="#2c497d" stroke="#1f3a72" stroke-width="0.8"/>
<line x1="422.90" y1="154.90" x2="422.90" y2="161.50" stroke="#2a2a2a" stroke-width="1.15"/>
<line x1="417.20" y1="155.40" x2="428.60" y2="155.40" stroke="#2a2a2a" stroke-width="1.15"/>
<line x1="423.00" y1="188.50" x2="423.00" y2="191.30" stroke="#151515" stroke-width="1.1"/>
<rect x="446.70" y="127.20" width="22.00" height="61.30" fill="#a70028" stroke="#96001f" stroke-width="0.8"/>
<line x1="457.45" y1="113.60" x2="457.45" y2="127.10" stroke="#2a2a2a" stroke-width="1.15"/>
<line x1="451.90" y1="114.10" x2="463.00" y2="114.10" stroke="#2a2a2a" stroke-width="1.15"/>
<line x1="457.70" y1="188.50" x2="457.70" y2="191.30" stroke="#151515" stroke-width="1.1"/>
<text x="413.78" y="202.40" font-size="8.9" textLength="18.75" lengthAdjust="spacingAndGlyphs" >Ctrl.</text>
<text x="446.20" y="202.40" font-size="8.9" textLength="22.90" lengthAdjust="spacingAndGlyphs" >Depl.</text>
<text x="427.56" y="85.80" font-size="8.3" textLength="26.01" lengthAdjust="spacingAndGlyphs" >p=0.06</text>
<text x="83.68" y="29.30" font-size="10.6" textLength="20.99" lengthAdjust="spacingAndGlyphs" stroke="#1c1c1c" stroke-width="0.1">HSC</text>
<rect x="42.50" y="34.50" width="103.30" height="49.90" fill="none" stroke="#151515" stroke-width="1.2"/>
<path d="M42.80,84.40 C47.33,84.40 64.70,84.55 70.00,84.40 C75.30,84.25 73.25,84.13 74.60,83.50 C75.95,82.87 77.23,81.38 78.10,80.60 C78.97,79.82 79.23,79.18 79.80,78.80 C80.37,78.42 80.83,78.97 81.50,78.30 C82.17,77.63 82.93,76.25 83.80,74.80 C84.67,73.35 85.92,71.62 86.70,69.60 C87.48,67.58 88.02,64.82 88.50,62.70 C88.98,60.58 89.03,58.43 89.60,56.90 C90.17,55.37 91.32,54.65 91.90,53.50 C92.48,52.35 92.72,51.55 93.10,50.00 C93.48,48.45 93.78,45.58 94.20,44.20 C94.62,42.82 95.12,41.78 95.60,41.70 C96.08,41.62 96.57,42.32 97.10,43.70 C97.63,45.08 98.32,47.98 98.80,50.00 C99.28,52.02 99.60,53.68 100.00,55.80 C100.40,57.92 100.72,60.02 101.20,62.70 C101.68,65.38 102.33,69.22 102.90,71.90 C103.47,74.58 103.73,76.87 104.60,78.80 C105.47,80.73 106.57,82.57 108.10,83.50 C109.63,84.43 107.57,84.25 113.80,84.40 C120.03,84.55 140.22,84.40 145.50,84.40" fill="none" stroke="#3b5a9a" stroke-width="1.1"/>
<path d="M42.80,84.40 C47.33,84.40 63.93,84.47 70.00,84.40 C76.07,84.33 76.90,84.45 79.20,84.00 C81.50,83.55 82.45,82.65 83.80,81.70 C85.15,80.75 86.23,79.55 87.30,78.30 C88.37,77.05 89.43,75.30 90.20,74.20 C90.97,73.10 91.32,71.98 91.90,71.70 C92.48,71.42 93.12,72.65 93.70,72.50 C94.28,72.35 94.83,72.05 95.40,70.80 C95.97,69.55 96.62,66.93 97.10,65.00 C97.58,63.07 97.85,60.45 98.30,59.20 C98.75,57.95 99.28,57.88 99.80,57.50 C100.32,57.12 100.95,57.77 101.40,56.90 C101.85,56.03 102.12,53.25 102.50,52.30 C102.88,51.35 103.32,51.00 103.70,51.20 C104.08,51.40 104.37,51.78 104.80,53.50 C105.23,55.22 105.75,58.82 106.30,61.50 C106.85,64.18 107.52,66.90 108.10,69.60 C108.68,72.30 109.03,75.62 109.80,77.70 C110.57,79.78 111.45,81.05 112.70,82.10 C113.95,83.15 114.42,83.62 117.30,84.00 C120.18,84.38 125.30,84.33 130.00,84.40 C134.70,84.47 142.92,84.40 145.50,84.40" fill="none" stroke="#c21441" stroke-width="1.2"/>
<line x1="38.90" y1="84.40" x2="42.50" y2="84.40" stroke="#151515" stroke-width="1.0"/>
<line x1="40.70" y1="82.74" x2="42.50" y2="82.74" stroke="#151515" stroke-width="1.0"/>
<line x1="40.70" y1="81.09" x2="42.50" y2="81.09" stroke="#151515" stroke-width="1.0"/>
<line x1="40.70" y1="79.43" x2="42.50" y2="79.43" stroke="#151515" stroke-width="1.0"/>
<line x1="40.70" y1="77.77" x2="42.50" y2="77.77" stroke="#151515" stroke-width="1.0"/>
<line x1="40.70" y1="76.12" x2="42.50" y2="76.12" stroke="#151515" stroke-width="1.0"/>
<line x1="40.70" y1="74.46" x2="42.50" y2="74.46" stroke="#151515" stroke-width="1.0"/>
<line x1="40.70" y1="72.80" x2="42.50" y2="72.80" stroke="#151515" stroke-width="1.0"/>
<line x1="40.70" y1="71.14" x2="42.50" y2="71.14" stroke="#151515" stroke-width="1.0"/>
<line x1="40.70" y1="69.49" x2="42.50" y2="69.49" stroke="#151515" stroke-width="1.0"/>
<line x1="38.90" y1="67.83" x2="42.50" y2="67.83" stroke="#151515" stroke-width="1.0"/>
<line x1="40.70" y1="66.17" x2="42.50" y2="66.17" stroke="#151515" stroke-width="1.0"/>
<line x1="40.70" y1="64.52" x2="42.50" y2="64.52" stroke="#151515" stroke-width="1.0"/>
<line x1="40.70" y1="62.86" x2="42.50" y2="62.86" stroke="#151515" stroke-width="1.0"/>
<line x1="40.70" y1="61.20" x2="42.50" y2="61.20" stroke="#151515" stroke-width="1.0"/>
<line x1="40.70" y1="59.55" x2="42.50" y2="59.55" stroke="#151515" stroke-width="1.0"/>
<line x1="40.70" y1="57.89" x2="42.50" y2="57.89" stroke="#151515" stroke-width="1.0"/>
<line x1="40.70" y1="56.23" x2="42.50" y2="56.23" stroke="#151515" stroke-width="1.0"/>
<line x1="40.70" y1="54.57" x2="42.50" y2="54.57" stroke="#151515" stroke-width="1.0"/>
<line x1="40.70" y1="52.92" x2="42.50" y2="52.92" stroke="#151515" stroke-width="1.0"/>
<line x1="38.90" y1="51.26" x2="42.50" y2="51.26" stroke="#151515" stroke-width="1.0"/>
<line x1="40.70" y1="49.60" x2="42.50" y2="49.60" stroke="#151515" stroke-width="1.0"/>
<line x1="40.70" y1="47.95" x2="42.50" y2="47.95" stroke="#151515" stroke-width="1.0"/>
<line x1="40.70" y1="46.29" x2="42.50" y2="46.29" stroke="#151515" stroke-width="1.0"/>
<line x1="40.70" y1="44.63" x2="42.50" y2="44.63" stroke="#151515" stroke-width="1.0"/>
<line x1="40.70" y1="42.98" x2="42.50" y2="42.98" stroke="#151515" stroke-width="1.0"/>
<line x1="40.70" y1="41.32" x2="42.50" y2="41.32" stroke="#151515" stroke-width="1.0"/>
<line x1="40.70" y1="39.66" x2="42.50" y2="39.66" stroke="#151515" stroke-width="1.0"/>
<line x1="40.70" y1="38.00" x2="42.50" y2="38.00" stroke="#151515" stroke-width="1.0"/>
<line x1="40.70" y1="36.35" x2="42.50" y2="36.35" stroke="#151515" stroke-width="1.0"/>
<line x1="38.90" y1="34.69" x2="42.50" y2="34.69" stroke="#151515" stroke-width="1.0"/>
<line x1="49.00" y1="84.40" x2="49.00" y2="87.40" stroke="#151515" stroke-width="1.0"/>
<line x1="65.70" y1="84.40" x2="65.70" y2="87.40" stroke="#151515" stroke-width="1.0"/>
<line x1="82.40" y1="84.40" x2="82.40" y2="87.40" stroke="#151515" stroke-width="1.0"/>
<line x1="111.80" y1="84.40" x2="111.80" y2="87.40" stroke="#151515" stroke-width="1.0"/>
<line x1="139.80" y1="84.40" x2="139.80" y2="87.40" stroke="#151515" stroke-width="1.0"/>
<line x1="50.86" y1="84.40" x2="50.86" y2="86.40" stroke="#151515" stroke-width="0.9"/>
<line x1="52.71" y1="84.40" x2="52.71" y2="86.40" stroke="#151515" stroke-width="0.9"/>
<line x1="54.57" y1="84.40" x2="54.57" y2="86.40" stroke="#151515" stroke-width="0.9"/>
<line x1="56.42" y1="84.40" x2="56.42" y2="86.40" stroke="#151515" stroke-width="0.9"/>
<line x1="58.28" y1="84.40" x2="58.28" y2="86.40" stroke="#151515" stroke-width="0.9"/>
<line x1="60.13" y1="84.40" x2="60.13" y2="86.40" stroke="#151515" stroke-width="0.9"/>
<line x1="61.99" y1="84.40" x2="61.99" y2="86.40" stroke="#151515" stroke-width="0.9"/>
<line x1="63.84" y1="84.40" x2="63.84" y2="86.40" stroke="#151515" stroke-width="0.9"/>
<line x1="67.56" y1="84.40" x2="67.56" y2="86.40" stroke="#151515" stroke-width="0.9"/>
<line x1="69.41" y1="84.40" x2="69.41" y2="86.40" stroke="#151515" stroke-width="0.9"/>
<line x1="71.27" y1="84.40" x2="71.27" y2="86.40" stroke="#151515" stroke-width="0.9"/>
<line x1="73.12" y1="84.40" x2="73.12" y2="86.40" stroke="#151515" stroke-width="0.9"/>
<line x1="74.98" y1="84.40" x2="74.98" y2="86.40" stroke="#151515" stroke-width="0.9"/>
<line x1="76.83" y1="84.40" x2="76.83" y2="86.40" stroke="#151515" stroke-width="0.9"/>
<line x1="78.69" y1="84.40" x2="78.69" y2="86.40" stroke="#151515" stroke-width="0.9"/>
<line x1="80.54" y1="84.40" x2="80.54" y2="86.40" stroke="#151515" stroke-width="0.9"/>
<line x1="91.25" y1="84.40" x2="91.25" y2="86.40" stroke="#151515" stroke-width="0.9"/>
<line x1="96.43" y1="84.40" x2="96.43" y2="86.40" stroke="#151515" stroke-width="0.9"/>
<line x1="100.10" y1="84.40" x2="100.10" y2="86.40" stroke="#151515" stroke-width="0.9"/>
<line x1="102.95" y1="84.40" x2="102.95" y2="86.40" stroke="#151515" stroke-width="0.9"/>
<line x1="105.28" y1="84.40" x2="105.28" y2="86.40" stroke="#151515" stroke-width="0.9"/>
<line x1="107.25" y1="84.40" x2="107.25" y2="86.40" stroke="#151515" stroke-width="0.9"/>
<line x1="108.95" y1="84.40" x2="108.95" y2="86.40" stroke="#151515" stroke-width="0.9"/>
<line x1="110.45" y1="84.40" x2="110.45" y2="86.40" stroke="#151515" stroke-width="0.9"/>
<line x1="120.23" y1="84.40" x2="120.23" y2="86.40" stroke="#151515" stroke-width="0.9"/>
<line x1="125.16" y1="84.40" x2="125.16" y2="86.40" stroke="#151515" stroke-width="0.9"/>
<line x1="128.66" y1="84.40" x2="128.66" y2="86.40" stroke="#151515" stroke-width="0.9"/>
<line x1="131.37" y1="84.40" x2="131.37" y2="86.40" stroke="#151515" stroke-width="0.9"/>
<line x1="133.59" y1="84.40" x2="133.59" y2="86.40" stroke="#151515" stroke-width="0.9"/>
<line x1="135.46" y1="84.40" x2="135.46" y2="86.40" stroke="#151515" stroke-width="0.9"/>
<line x1="137.09" y1="84.40" x2="137.09" y2="86.40" stroke="#151515" stroke-width="0.9"/>
<line x1="138.52" y1="84.40" x2="138.52" y2="86.40" stroke="#151515" stroke-width="0.9"/>
<text x="40.80" y="101.10" font-size="8.6" textLength="13.16" lengthAdjust="spacingAndGlyphs" >-10</text>
<text x="53.72" y="98.20" font-size="7.0" textLength="4.11" lengthAdjust="spacingAndGlyphs" >3</text>
<text x="63.49" y="101.10" font-size="8.6" textLength="4.42" lengthAdjust="spacingAndGlyphs" >0</text>
<text x="76.43" y="101.10" font-size="8.6" textLength="9.82" lengthAdjust="spacingAndGlyphs" >10</text>
<text x="86.02" y="98.20" font-size="7.0" textLength="4.11" lengthAdjust="spacingAndGlyphs" >3</text>
<text x="104.66" y="101.10" font-size="8.6" textLength="9.37" lengthAdjust="spacingAndGlyphs" >10</text>
<text x="113.94" y="98.20" font-size="7.0" textLength="3.86" lengthAdjust="spacingAndGlyphs" >4</text>
<text x="129.36" y="101.10" font-size="8.6" textLength="9.37" lengthAdjust="spacingAndGlyphs" >10</text>
<text x="138.50" y="98.20" font-size="7.0" textLength="4.11" lengthAdjust="spacingAndGlyphs" >5</text>
<text x="196.14" y="29.30" font-size="10.6" textLength="28.69" lengthAdjust="spacingAndGlyphs" stroke="#1c1c1c" stroke-width="0.1">MPP2</text>
<rect x="158.80" y="34.50" width="103.70" height="49.90" fill="none" stroke="#151515" stroke-width="1.2"/>
<path d="M159.10,84.40 C164.25,84.35 183.70,84.23 190.00,84.10 C196.30,83.97 195.17,83.93 196.90,83.60 C198.63,83.27 199.43,82.83 200.40,82.10 C201.37,81.37 201.93,80.35 202.70,79.20 C203.47,78.05 204.13,76.63 205.00,75.20 C205.87,73.77 207.13,72.05 207.90,70.60 C208.67,69.15 209.03,67.95 209.60,66.50 C210.17,65.05 210.82,62.90 211.30,61.90 C211.78,60.90 212.02,60.30 212.50,60.50 C212.98,60.70 213.53,62.10 214.20,63.10 C214.87,64.10 215.63,65.20 216.50,66.50 C217.37,67.80 218.53,69.55 219.40,70.90 C220.27,72.25 220.93,73.30 221.70,74.60 C222.47,75.90 223.13,77.55 224.00,78.70 C224.87,79.85 225.83,80.68 226.90,81.50 C227.97,82.32 228.85,83.17 230.40,83.60 C231.95,84.03 230.90,83.97 236.20,84.10 C241.50,84.23 257.87,84.35 262.20,84.40" fill="none" stroke="#3b5a9a" stroke-width="1.1"/>
<path d="M159.10,84.40 C164.25,84.32 183.50,84.15 190.00,83.90 C196.50,83.65 195.98,83.48 198.10,82.90 C200.22,82.32 201.45,81.02 202.70,80.40 C203.95,79.78 204.73,79.97 205.60,79.20 C206.47,78.43 207.23,77.13 207.90,75.80 C208.57,74.47 209.03,72.20 209.60,71.20 C210.17,70.20 210.72,70.28 211.30,69.80 C211.88,69.32 212.62,69.23 213.10,68.30 C213.58,67.37 213.82,65.65 214.20,64.20 C214.58,62.75 214.82,60.93 215.40,59.60 C215.98,58.27 217.08,57.35 217.70,56.20 C218.32,55.05 218.72,53.48 219.10,52.70 C219.48,51.92 219.65,51.40 220.00,51.50 C220.35,51.60 220.82,51.75 221.20,53.30 C221.58,54.85 221.83,58.40 222.30,60.80 C222.77,63.20 223.42,65.58 224.00,67.70 C224.58,69.82 225.22,71.58 225.80,73.50 C226.38,75.42 226.83,77.70 227.50,79.20 C228.17,80.70 228.75,81.77 229.80,82.50 C230.85,83.23 231.78,83.33 233.80,83.60 C235.82,83.87 237.17,83.97 241.90,84.10 C246.63,84.23 258.82,84.35 262.20,84.40" fill="none" stroke="#c21441" stroke-width="1.2"/>
<line x1="155.20" y1="84.40" x2="158.80" y2="84.40" stroke="#151515" stroke-width="1.0"/>
<line x1="157.00" y1="80.30" x2="158.80" y2="80.30" stroke="#151515" stroke-width="1.0"/>
<line x1="157.00" y1="76.20" x2="158.80" y2="76.20" stroke="#151515" stroke-width="1.0"/>
<line x1="155.20" y1="72.10" x2="158.80" y2="72.10" stroke="#151515" stroke-width="1.0"/>
<line x1="157.00" y1="68.00" x2="158.80" y2="68.00" stroke="#151515" stroke-width="1.0"/>
<line x1="157.00" y1="63.90" x2="158.80" y2="63.90" stroke="#151515" stroke-width="1.0"/>
<line x1="155.20" y1="59.80" x2="158.80" y2="59.80" stroke="#151515" stroke-width="1.0"/>
<line x1="157.00" y1="55.70" x2="158.80" y2="55.70" stroke="#151515" stroke-width="1.0"/>
<line x1="157.00" y1="51.60" x2="158.80" y2="51.60" stroke="#151515" stroke-width="1.0"/>
<line x1="155.20" y1="47.50" x2="158.80" y2="47.50" stroke="#151515" stroke-width="1.0"/>
<line x1="157.00" y1="43.40" x2="158.80" y2="43.40" stroke="#151515" stroke-width="1.0"/>
<line x1="157.00" y1="39.30" x2="158.80" y2="39.30" stroke="#151515" stroke-width="1.0"/>
<line x1="155.20" y1="35.20" x2="158.80" y2="35.20" stroke="#151515" stroke-width="1.0"/>
<line x1="165.33" y1="84.40" x2="165.33" y2="87.40" stroke="#151515" stroke-width="1.0"/>
<line x1="182.09" y1="84.40" x2="182.09" y2="87.40" stroke="#151515" stroke-width="1.0"/>
<line x1="198.85" y1="84.40" x2="198.85" y2="87.40" stroke="#151515" stroke-width="1.0"/>
<line x1="228.37" y1="84.40" x2="228.37" y2="87.40" stroke="#151515" stroke-width="1.0"/>
<line x1="256.48" y1="84.40" x2="256.48" y2="87.40" stroke="#151515" stroke-width="1.0"/>
<line x1="167.19" y1="84.40" x2="167.19" y2="86.40" stroke="#151515" stroke-width="0.9"/>
<line x1="169.05" y1="84.40" x2="169.05" y2="86.40" stroke="#151515" stroke-width="0.9"/>
<line x1="170.91" y1="84.40" x2="170.91" y2="86.40" stroke="#151515" stroke-width="0.9"/>
<line x1="172.78" y1="84.40" x2="172.78" y2="86.40" stroke="#151515" stroke-width="0.9"/>
<line x1="174.64" y1="84.40" x2="174.64" y2="86.40" stroke="#151515" stroke-width="0.9"/>
<line x1="176.50" y1="84.40" x2="176.50" y2="86.40" stroke="#151515" stroke-width="0.9"/>
<line x1="178.36" y1="84.40" x2="178.36" y2="86.40" stroke="#151515" stroke-width="0.9"/>
<line x1="180.23" y1="84.40" x2="180.23" y2="86.40" stroke="#151515" stroke-width="0.9"/>
<line x1="183.95" y1="84.40" x2="183.95" y2="86.40" stroke="#151515" stroke-width="0.9"/>
<line x1="185.82" y1="84.40" x2="185.82" y2="86.40" stroke="#151515" stroke-width="0.9"/>
<line x1="187.68" y1="84.40" x2="187.68" y2="86.40" stroke="#151515" stroke-width="0.9"/>
<line x1="189.54" y1="84.40" x2="189.54" y2="86.40" stroke="#151515" stroke-width="0.9"/>
<line x1="191.40" y1="84.40" x2="191.40" y2="86.40" stroke="#151515" stroke-width="0.9"/>
<line x1="193.27" y1="84.40" x2="193.27" y2="86.40" stroke="#151515" stroke-width="0.9"/>
<line x1="195.13" y1="84.40" x2="195.13" y2="86.40" stroke="#151515" stroke-width="0.9"/>
<line x1="196.99" y1="84.40" x2="196.99" y2="86.40" stroke="#151515" stroke-width="0.9"/>
<line x1="207.74" y1="84.40" x2="207.74" y2="86.40" stroke="#151515" stroke-width="0.9"/>
<line x1="212.94" y1="84.40" x2="212.94" y2="86.40" stroke="#151515" stroke-width="0.9"/>
<line x1="216.62" y1="84.40" x2="216.62" y2="86.40" stroke="#151515" stroke-width="0.9"/>
<line x1="219.48" y1="84.40" x2="219.48" y2="86.40" stroke="#151515" stroke-width="0.9"/>
<line x1="221.82" y1="84.40" x2="221.82" y2="86.40" stroke="#151515" stroke-width="0.9"/>
<line x1="223.80" y1="84.40" x2="223.80" y2="86.40" stroke="#151515" stroke-width="0.9"/>
<line x1="225.51" y1="84.40" x2="225.51" y2="86.40" stroke="#151515" stroke-width="0.9"/>
<line x1="227.02" y1="84.40" x2="227.02" y2="86.40" stroke="#151515" stroke-width="0.9"/>
<line x1="236.83" y1="84.40" x2="236.83" y2="86.40" stroke="#151515" stroke-width="0.9"/>
<line x1="241.78" y1="84.40" x2="241.78" y2="86.40" stroke="#151515" stroke-width="0.9"/>
<line x1="245.29" y1="84.40" x2="245.29" y2="86.40" stroke="#151515" stroke-width="0.9"/>
<line x1="248.02" y1="84.40" x2="248.02" y2="86.40" stroke="#151515" stroke-width="0.9"/>
<line x1="250.24" y1="84.40" x2="250.24" y2="86.40" stroke="#151515" stroke-width="0.9"/>
<line x1="252.12" y1="84.40" x2="252.12" y2="86.40" stroke="#151515" stroke-width="0.9"/>
<line x1="253.75" y1="84.40" x2="253.75" y2="86.40" stroke="#151515" stroke-width="0.9"/>
<line x1="255.19" y1="84.40" x2="255.19" y2="86.40" stroke="#151515" stroke-width="0.9"/>
<text x="157.09" y="101.10" font-size="8.6" textLength="13.23" lengthAdjust="spacingAndGlyphs" >-10</text>
<text x="170.08" y="98.20" font-size="7.0" textLength="4.11" lengthAdjust="spacingAndGlyphs" >3</text>
<text x="179.87" y="101.10" font-size="8.6" textLength="4.44" lengthAdjust="spacingAndGlyphs" >0</text>
<text x="192.86" y="101.10" font-size="8.6" textLength="9.87" lengthAdjust="spacingAndGlyphs" >10</text>
<text x="202.50" y="98.20" font-size="7.0" textLength="4.11" lengthAdjust="spacingAndGlyphs" >3</text>
<text x="221.20" y="101.10" font-size="8.6" textLength="9.42" lengthAdjust="spacingAndGlyphs" >10</text>
<text x="230.53" y="98.20" font-size="7.0" textLength="3.86" lengthAdjust="spacingAndGlyphs" >4</text>
<text x="245.99" y="101.10" font-size="8.6" textLength="9.42" lengthAdjust="spacingAndGlyphs" >10</text>
<text x="255.19" y="98.20" font-size="7.0" textLength="4.11" lengthAdjust="spacingAndGlyphs" >5</text>
<text x="75.45" y="150.50" font-size="10.6" textLength="36.85" lengthAdjust="spacingAndGlyphs" stroke="#1c1c1c" stroke-width="0.1">MPP3/4</text>
<rect x="42.50" y="155.80" width="103.80" height="52.90" fill="none" stroke="#151515" stroke-width="1.2"/>
<path d="M42.80,208.70 C47.58,208.63 65.75,208.60 71.50,208.30 C77.25,208.00 75.75,207.48 77.30,206.90 C78.85,206.32 79.73,205.18 80.80,204.80 C81.87,204.42 82.75,205.20 83.70,204.60 C84.65,204.00 85.45,202.55 86.50,201.20 C87.55,199.85 89.03,198.43 90.00,196.50 C90.97,194.57 91.43,191.72 92.30,189.60 C93.17,187.48 94.33,184.37 95.20,183.80 C96.07,183.23 96.73,184.65 97.50,186.20 C98.27,187.75 99.03,190.60 99.80,193.10 C100.57,195.60 101.33,199.18 102.10,201.20 C102.87,203.22 103.33,204.15 104.40,205.20 C105.47,206.25 107.05,206.98 108.50,207.50 C109.95,208.02 106.85,208.10 113.10,208.30 C119.35,208.50 140.52,208.63 146.00,208.70" fill="none" stroke="#3b5a9a" stroke-width="1.1"/>
<path d="M42.80,208.70 C45.67,208.63 55.60,208.50 60.00,208.30 C64.40,208.10 66.90,207.92 69.20,207.50 C71.50,207.08 72.45,206.47 73.80,205.80 C75.15,205.13 76.13,204.37 77.30,203.50 C78.47,202.63 79.83,201.85 80.80,200.60 C81.77,199.35 82.43,197.63 83.10,196.00 C83.77,194.37 84.03,192.35 84.80,190.80 C85.57,189.25 86.83,188.25 87.70,186.70 C88.57,185.15 89.38,183.90 90.00,181.50 C90.62,179.10 90.87,174.02 91.40,172.30 C91.93,170.58 92.77,172.35 93.20,171.20 C93.63,170.05 93.67,166.57 94.00,165.40 C94.33,164.23 94.72,164.10 95.20,164.20 C95.68,164.30 96.32,165.45 96.90,166.00 C97.48,166.55 98.22,166.93 98.70,167.50 C99.18,168.07 99.42,167.63 99.80,169.40 C100.18,171.17 100.52,175.12 101.00,178.10 C101.48,181.08 102.13,184.42 102.70,187.30 C103.27,190.18 103.82,192.90 104.40,195.40 C104.98,197.90 105.33,200.48 106.20,202.30 C107.07,204.12 108.07,205.33 109.60,206.30 C111.13,207.27 113.67,207.77 115.40,208.10 C117.13,208.43 114.90,208.20 120.00,208.30 C125.10,208.40 141.67,208.63 146.00,208.70" fill="none" stroke="#c21441" stroke-width="1.2"/>
<line x1="38.90" y1="208.70" x2="42.50" y2="208.70" stroke="#151515" stroke-width="1.0"/>
<line x1="40.70" y1="206.55" x2="42.50" y2="206.55" stroke="#151515" stroke-width="1.0"/>
<line x1="40.70" y1="204.40" x2="42.50" y2="204.40" stroke="#151515" stroke-width="1.0"/>
<line x1="40.70" y1="202.25" x2="42.50" y2="202.25" stroke="#151515" stroke-width="1.0"/>
<line x1="40.70" y1="200.10" x2="42.50" y2="200.10" stroke="#151515" stroke-width="1.0"/>
<line x1="38.90" y1="197.95" x2="42.50" y2="197.95" stroke="#151515" stroke-width="1.0"/>
<line x1="40.70" y1="195.80" x2="42.50" y2="195.80" stroke="#151515" stroke-width="1.0"/>
<line x1="40.70" y1="193.65" x2="42.50" y2="193.65" stroke="#151515" stroke-width="1.0"/>
<line x1="40.70" y1="191.50" x2="42.50" y2="191.50" stroke="#151515" stroke-width="1.0"/>
<line x1="40.70" y1="189.35" x2="42.50" y2="189.35" stroke="#151515" stroke-width="1.0"/>
<line x1="38.90" y1="187.20" x2="42.50" y2="187.20" stroke="#151515" stroke-width="1.0"/>
<line x1="40.70" y1="185.05" x2="42.50" y2="185.05" stroke="#151515" stroke-width="1.0"/>
<line x1="40.70" y1="182.90" x2="42.50" y2="182.90" stroke="#151515" stroke-width="1.0"/>
<line x1="40.70" y1="180.75" x2="42.50" y2="180.75" stroke="#151515" stroke-width="1.0"/>
<line x1="40.70" y1="178.60" x2="42.50" y2="178.60" stroke="#151515" stroke-width="1.0"/>
<line x1="38.90" y1="176.45" x2="42.50" y2="176.45" stroke="#151515" stroke-width="1.0"/>
<line x1="40.70" y1="174.30" x2="42.50" y2="174.30" stroke="#151515" stroke-width="1.0"/>
<line x1="40.70" y1="172.15" x2="42.50" y2="172.15" stroke="#151515" stroke-width="1.0"/>
<line x1="40.70" y1="170.00" x2="42.50" y2="170.00" stroke="#151515" stroke-width="1.0"/>
<line x1="40.70" y1="167.85" x2="42.50" y2="167.85" stroke="#151515" stroke-width="1.0"/>
<line x1="38.90" y1="165.70" x2="42.50" y2="165.70" stroke="#151515" stroke-width="1.0"/>
<line x1="40.70" y1="163.55" x2="42.50" y2="163.55" stroke="#151515" stroke-width="1.0"/>
<line x1="40.70" y1="161.40" x2="42.50" y2="161.40" stroke="#151515" stroke-width="1.0"/>
<line x1="40.70" y1="159.25" x2="42.50" y2="159.25" stroke="#151515" stroke-width="1.0"/>
<line x1="40.70" y1="157.10" x2="42.50" y2="157.10" stroke="#151515" stroke-width="1.0"/>
<line x1="49.03" y1="208.70" x2="49.03" y2="211.70" stroke="#151515" stroke-width="1.0"/>
<line x1="65.81" y1="208.70" x2="65.81" y2="211.70" stroke="#151515" stroke-width="1.0"/>
<line x1="82.59" y1="208.70" x2="82.59" y2="211.70" stroke="#151515" stroke-width="1.0"/>
<line x1="112.14" y1="208.70" x2="112.14" y2="211.70" stroke="#151515" stroke-width="1.0"/>
<line x1="140.27" y1="208.70" x2="140.27" y2="211.70" stroke="#151515" stroke-width="1.0"/>
<line x1="50.90" y1="208.70" x2="50.90" y2="210.70" stroke="#151515" stroke-width="0.9"/>
<line x1="52.76" y1="208.70" x2="52.76" y2="210.70" stroke="#151515" stroke-width="0.9"/>
<line x1="54.63" y1="208.70" x2="54.63" y2="210.70" stroke="#151515" stroke-width="0.9"/>
<line x1="56.49" y1="208.70" x2="56.49" y2="210.70" stroke="#151515" stroke-width="0.9"/>
<line x1="58.35" y1="208.70" x2="58.35" y2="210.70" stroke="#151515" stroke-width="0.9"/>
<line x1="60.22" y1="208.70" x2="60.22" y2="210.70" stroke="#151515" stroke-width="0.9"/>
<line x1="62.08" y1="208.70" x2="62.08" y2="210.70" stroke="#151515" stroke-width="0.9"/>
<line x1="63.95" y1="208.70" x2="63.95" y2="210.70" stroke="#151515" stroke-width="0.9"/>
<line x1="67.68" y1="208.70" x2="67.68" y2="210.70" stroke="#151515" stroke-width="0.9"/>
<line x1="69.54" y1="208.70" x2="69.54" y2="210.70" stroke="#151515" stroke-width="0.9"/>
<line x1="71.41" y1="208.70" x2="71.41" y2="210.70" stroke="#151515" stroke-width="0.9"/>
<line x1="73.27" y1="208.70" x2="73.27" y2="210.70" stroke="#151515" stroke-width="0.9"/>
<line x1="75.13" y1="208.70" x2="75.13" y2="210.70" stroke="#151515" stroke-width="0.9"/>
<line x1="77.00" y1="208.70" x2="77.00" y2="210.70" stroke="#151515" stroke-width="0.9"/>
<line x1="78.86" y1="208.70" x2="78.86" y2="210.70" stroke="#151515" stroke-width="0.9"/>
<line x1="80.73" y1="208.70" x2="80.73" y2="210.70" stroke="#151515" stroke-width="0.9"/>
<line x1="91.49" y1="208.70" x2="91.49" y2="210.70" stroke="#151515" stroke-width="0.9"/>
<line x1="96.69" y1="208.70" x2="96.69" y2="210.70" stroke="#151515" stroke-width="0.9"/>
<line x1="100.38" y1="208.70" x2="100.38" y2="210.70" stroke="#151515" stroke-width="0.9"/>
<line x1="103.24" y1="208.70" x2="103.24" y2="210.70" stroke="#151515" stroke-width="0.9"/>
<line x1="105.58" y1="208.70" x2="105.58" y2="210.70" stroke="#151515" stroke-width="0.9"/>
<line x1="107.56" y1="208.70" x2="107.56" y2="210.70" stroke="#151515" stroke-width="0.9"/>
<line x1="109.27" y1="208.70" x2="109.27" y2="210.70" stroke="#151515" stroke-width="0.9"/>
<line x1="110.78" y1="208.70" x2="110.78" y2="210.70" stroke="#151515" stroke-width="0.9"/>
<line x1="120.61" y1="208.70" x2="120.61" y2="210.70" stroke="#151515" stroke-width="0.9"/>
<line x1="125.56" y1="208.70" x2="125.56" y2="210.70" stroke="#151515" stroke-width="0.9"/>
<line x1="129.07" y1="208.70" x2="129.07" y2="210.70" stroke="#151515" stroke-width="0.9"/>
<line x1="131.80" y1="208.70" x2="131.80" y2="210.70" stroke="#151515" stroke-width="0.9"/>
<line x1="134.03" y1="208.70" x2="134.03" y2="210.70" stroke="#151515" stroke-width="0.9"/>
<line x1="135.91" y1="208.70" x2="135.91" y2="210.70" stroke="#151515" stroke-width="0.9"/>
<line x1="137.54" y1="208.70" x2="137.54" y2="210.70" stroke="#151515" stroke-width="0.9"/>
<line x1="138.98" y1="208.70" x2="138.98" y2="210.70" stroke="#151515" stroke-width="0.9"/>
<text x="40.79" y="225.40" font-size="8.6" textLength="13.24" lengthAdjust="spacingAndGlyphs" >-10</text>
<text x="53.79" y="222.50" font-size="7.0" textLength="4.11" lengthAdjust="spacingAndGlyphs" >3</text>
<text x="63.59" y="225.40" font-size="8.6" textLength="4.44" lengthAdjust="spacingAndGlyphs" >0</text>
<text x="76.59" y="225.40" font-size="8.6" textLength="9.89" lengthAdjust="spacingAndGlyphs" >10</text>
<text x="86.25" y="222.50" font-size="7.0" textLength="4.11" lengthAdjust="spacingAndGlyphs" >3</text>
<text x="104.96" y="225.40" font-size="8.6" textLength="9.44" lengthAdjust="spacingAndGlyphs" >10</text>
<text x="114.30" y="222.50" font-size="7.0" textLength="3.86" lengthAdjust="spacingAndGlyphs" >4</text>
<text x="129.78" y="225.40" font-size="8.6" textLength="9.44" lengthAdjust="spacingAndGlyphs" >10</text>
<text x="138.99" y="222.50" font-size="7.0" textLength="4.11" lengthAdjust="spacingAndGlyphs" >5</text>
<text x="192.94" y="150.50" font-size="10.6" textLength="36.53" lengthAdjust="spacingAndGlyphs" stroke="#1c1c1c" stroke-width="0.1">PreMeg</text>
<rect x="159.50" y="155.80" width="104.30" height="52.90" fill="none" stroke="#151515" stroke-width="1.2"/>
<path d="M159.80,208.70 C164.83,208.68 184.17,208.78 190.00,208.60 C195.83,208.42 193.52,208.08 194.80,207.60 C196.08,207.12 196.73,206.42 197.70,205.70 C198.67,204.98 199.72,204.50 200.60,203.30 C201.48,202.10 202.28,200.43 203.00,198.50 C203.72,196.57 204.35,193.78 204.90,191.70 C205.45,189.62 205.82,187.75 206.30,186.00 C206.78,184.25 207.23,182.65 207.80,181.20 C208.37,179.75 209.13,178.75 209.70,177.30 C210.27,175.85 210.77,173.92 211.20,172.50 C211.63,171.08 211.90,169.03 212.30,168.80 C212.70,168.57 213.23,169.68 213.60,171.10 C213.97,172.52 214.13,174.98 214.50,177.30 C214.87,179.62 215.32,182.60 215.80,185.00 C216.28,187.40 216.73,189.70 217.40,191.70 C218.07,193.70 218.92,195.40 219.80,197.00 C220.68,198.60 221.73,199.93 222.70,201.30 C223.67,202.67 224.48,204.07 225.60,205.20 C226.72,206.33 227.97,207.52 229.40,208.10 C230.83,208.68 228.52,208.60 234.20,208.70 C239.88,208.80 258.62,208.70 263.50,208.70" fill="none" stroke="#3b5a9a" stroke-width="1.1"/>
<path d="M159.80,208.70 C164.83,208.68 183.68,208.70 190.00,208.60 C196.32,208.50 195.62,208.50 197.70,208.10 C199.78,207.70 201.13,207.00 202.50,206.20 C203.87,205.40 205.02,204.58 205.90,203.30 C206.78,202.02 207.25,200.03 207.80,198.50 C208.35,196.97 208.57,195.38 209.20,194.10 C209.83,192.82 210.87,192.48 211.60,190.80 C212.33,189.12 212.95,185.68 213.60,184.00 C214.25,182.32 214.95,182.30 215.50,180.70 C216.05,179.10 216.50,175.85 216.90,174.40 C217.30,172.95 217.58,172.15 217.90,172.00 C218.22,171.85 218.40,172.13 218.80,173.50 C219.20,174.87 219.82,177.88 220.30,180.20 C220.78,182.52 221.13,185.72 221.70,187.40 C222.27,189.08 223.13,189.33 223.70,190.30 C224.27,191.27 224.55,191.68 225.10,193.20 C225.65,194.72 226.37,197.57 227.00,199.40 C227.63,201.23 228.18,202.83 228.90,204.20 C229.62,205.57 230.08,206.87 231.30,207.60 C232.52,208.33 230.83,208.42 236.20,208.60 C241.57,208.78 258.95,208.68 263.50,208.70" fill="none" stroke="#c21441" stroke-width="1.2"/>
<line x1="155.90" y1="208.70" x2="159.50" y2="208.70" stroke="#151515" stroke-width="1.0"/>
<line x1="157.70" y1="206.50" x2="159.50" y2="206.50" stroke="#151515" stroke-width="1.0"/>
<line x1="157.70" y1="204.30" x2="159.50" y2="204.30" stroke="#151515" stroke-width="1.0"/>
<line x1="157.70" y1="202.10" x2="159.50" y2="202.10" stroke="#151515" stroke-width="1.0"/>
<line x1="157.70" y1="199.90" x2="159.50" y2="199.90" stroke="#151515" stroke-width="1.0"/>
<line x1="157.70" y1="197.70" x2="159.50" y2="197.70" stroke="#151515" stroke-width="1.0"/>
<line x1="155.90" y1="195.50" x2="159.50" y2="195.50" stroke="#151515" stroke-width="1.0"/>
<line x1="157.70" y1="193.30" x2="159.50" y2="193.30" stroke="#151515" stroke-width="1.0"/>
<line x1="157.70" y1="191.10" x2="159.50" y2="191.10" stroke="#151515" stroke-width="1.0"/>
<line x1="157.70" y1="188.90" x2="159.50" y2="188.90" stroke="#151515" stroke-width="1.0"/>
<line x1="157.70" y1="186.70" x2="159.50" y2="186.70" stroke="#151515" stroke-width="1.0"/>
<line x1="157.70" y1="184.50" x2="159.50" y2="184.50" stroke="#151515" stroke-width="1.0"/>
<line x1="155.90" y1="182.30" x2="159.50" y2="182.30" stroke="#151515" stroke-width="1.0"/>
<line x1="157.70" y1="180.10" x2="159.50" y2="180.10" stroke="#151515" stroke-width="1.0"/>
<line x1="157.70" y1="177.90" x2="159.50" y2="177.90" stroke="#151515" stroke-width="1.0"/>
<line x1="157.70" y1="175.70" x2="159.50" y2="175.70" stroke="#151515" stroke-width="1.0"/>
<line x1="157.70" y1="173.50" x2="159.50" y2="173.50" stroke="#151515" stroke-width="1.0"/>
<line x1="157.70" y1="171.30" x2="159.50" y2="171.30" stroke="#151515" stroke-width="1.0"/>
<line x1="155.90" y1="169.10" x2="159.50" y2="169.10" stroke="#151515" stroke-width="1.0"/>
<line x1="157.70" y1="166.90" x2="159.50" y2="166.90" stroke="#151515" stroke-width="1.0"/>
<line x1="157.70" y1="164.70" x2="159.50" y2="164.70" stroke="#151515" stroke-width="1.0"/>
<line x1="157.70" y1="162.50" x2="159.50" y2="162.50" stroke="#151515" stroke-width="1.0"/>
<line x1="157.70" y1="160.30" x2="159.50" y2="160.30" stroke="#151515" stroke-width="1.0"/>
<line x1="157.70" y1="158.10" x2="159.50" y2="158.10" stroke="#151515" stroke-width="1.0"/>
<line x1="155.90" y1="155.90" x2="159.50" y2="155.90" stroke="#151515" stroke-width="1.0"/>
<line x1="166.06" y1="208.70" x2="166.06" y2="211.70" stroke="#151515" stroke-width="1.0"/>
<line x1="182.92" y1="208.70" x2="182.92" y2="211.70" stroke="#151515" stroke-width="1.0"/>
<line x1="199.79" y1="208.70" x2="199.79" y2="211.70" stroke="#151515" stroke-width="1.0"/>
<line x1="229.47" y1="208.70" x2="229.47" y2="211.70" stroke="#151515" stroke-width="1.0"/>
<line x1="257.74" y1="208.70" x2="257.74" y2="211.70" stroke="#151515" stroke-width="1.0"/>
<line x1="167.94" y1="208.70" x2="167.94" y2="210.70" stroke="#151515" stroke-width="0.9"/>
<line x1="169.81" y1="208.70" x2="169.81" y2="210.70" stroke="#151515" stroke-width="0.9"/>
<line x1="171.68" y1="208.70" x2="171.68" y2="210.70" stroke="#151515" stroke-width="0.9"/>
<line x1="173.56" y1="208.70" x2="173.56" y2="210.70" stroke="#151515" stroke-width="0.9"/>
<line x1="175.43" y1="208.70" x2="175.43" y2="210.70" stroke="#151515" stroke-width="0.9"/>
<line x1="177.30" y1="208.70" x2="177.30" y2="210.70" stroke="#151515" stroke-width="0.9"/>
<line x1="179.18" y1="208.70" x2="179.18" y2="210.70" stroke="#151515" stroke-width="0.9"/>
<line x1="181.05" y1="208.70" x2="181.05" y2="210.70" stroke="#151515" stroke-width="0.9"/>
<line x1="184.80" y1="208.70" x2="184.80" y2="210.70" stroke="#151515" stroke-width="0.9"/>
<line x1="186.67" y1="208.70" x2="186.67" y2="210.70" stroke="#151515" stroke-width="0.9"/>
<line x1="188.55" y1="208.70" x2="188.55" y2="210.70" stroke="#151515" stroke-width="0.9"/>
<line x1="190.42" y1="208.70" x2="190.42" y2="210.70" stroke="#151515" stroke-width="0.9"/>
<line x1="192.29" y1="208.70" x2="192.29" y2="210.70" stroke="#151515" stroke-width="0.9"/>
<line x1="194.17" y1="208.70" x2="194.17" y2="210.70" stroke="#151515" stroke-width="0.9"/>
<line x1="196.04" y1="208.70" x2="196.04" y2="210.70" stroke="#151515" stroke-width="0.9"/>
<line x1="197.91" y1="208.70" x2="197.91" y2="210.70" stroke="#151515" stroke-width="0.9"/>
<line x1="208.72" y1="208.70" x2="208.72" y2="210.70" stroke="#151515" stroke-width="0.9"/>
<line x1="213.95" y1="208.70" x2="213.95" y2="210.70" stroke="#151515" stroke-width="0.9"/>
<line x1="217.66" y1="208.70" x2="217.66" y2="210.70" stroke="#151515" stroke-width="0.9"/>
<line x1="220.53" y1="208.70" x2="220.53" y2="210.70" stroke="#151515" stroke-width="0.9"/>
<line x1="222.89" y1="208.70" x2="222.89" y2="210.70" stroke="#151515" stroke-width="0.9"/>
<line x1="224.87" y1="208.70" x2="224.87" y2="210.70" stroke="#151515" stroke-width="0.9"/>
<line x1="226.59" y1="208.70" x2="226.59" y2="210.70" stroke="#151515" stroke-width="0.9"/>
<line x1="228.11" y1="208.70" x2="228.11" y2="210.70" stroke="#151515" stroke-width="0.9"/>
<line x1="237.98" y1="208.70" x2="237.98" y2="210.70" stroke="#151515" stroke-width="0.9"/>
<line x1="242.96" y1="208.70" x2="242.96" y2="210.70" stroke="#151515" stroke-width="0.9"/>
<line x1="246.49" y1="208.70" x2="246.49" y2="210.70" stroke="#151515" stroke-width="0.9"/>
<line x1="249.23" y1="208.70" x2="249.23" y2="210.70" stroke="#151515" stroke-width="0.9"/>
<line x1="251.47" y1="208.70" x2="251.47" y2="210.70" stroke="#151515" stroke-width="0.9"/>
<line x1="253.36" y1="208.70" x2="253.36" y2="210.70" stroke="#151515" stroke-width="0.9"/>
<line x1="255.00" y1="208.70" x2="255.00" y2="210.70" stroke="#151515" stroke-width="0.9"/>
<line x1="256.45" y1="208.70" x2="256.45" y2="210.70" stroke="#151515" stroke-width="0.9"/>
<text x="157.78" y="225.40" font-size="8.6" textLength="13.33" lengthAdjust="spacingAndGlyphs" >-10</text>
<text x="170.86" y="222.50" font-size="7.0" textLength="4.11" lengthAdjust="spacingAndGlyphs" >3</text>
<text x="180.69" y="225.40" font-size="8.6" textLength="4.46" lengthAdjust="spacingAndGlyphs" >0</text>
<text x="193.75" y="225.40" font-size="8.6" textLength="9.95" lengthAdjust="spacingAndGlyphs" >10</text>
<text x="203.48" y="222.50" font-size="7.0" textLength="4.11" lengthAdjust="spacingAndGlyphs" >3</text>
<text x="222.26" y="225.40" font-size="8.6" textLength="9.50" lengthAdjust="spacingAndGlyphs" >10</text>
<text x="231.67" y="222.50" font-size="7.0" textLength="3.86" lengthAdjust="spacingAndGlyphs" >4</text>
<text x="247.20" y="225.40" font-size="8.6" textLength="9.50" lengthAdjust="spacingAndGlyphs" >10</text>
<text x="256.47" y="222.50" font-size="7.0" textLength="4.11" lengthAdjust="spacingAndGlyphs" >5</text>
<circle cx="231.5" cy="44.4" r="2.6" fill="#2c497d"/>
<circle cx="231.5" cy="55.9" r="2.6" fill="#a70028"/>
<text x="237.03" y="47.40" font-size="8.5" textLength="16.80" lengthAdjust="spacingAndGlyphs" >Ctrl.</text>
<text x="236.76" y="59.00" font-size="8.5" textLength="21.06" lengthAdjust="spacingAndGlyphs" >Depl.</text>
<line x1="42.50" y1="110.50" x2="254.00" y2="110.50" stroke="#151515" stroke-width="1.1"/>
<path d="M251,107.20 L259,110.50 L251,113.80 L252.5,110.50 Z" fill="#151515"/>
<text x="121.02" y="123.50" font-size="10" textLength="58.20" lengthAdjust="spacingAndGlyphs" stroke="#1c1c1c" stroke-width="0.1">pVEGFR2-AF488</text>
<line x1="42.50" y1="234.50" x2="254.00" y2="234.50" stroke="#151515" stroke-width="1.1"/>
<path d="M251,231.20 L259,234.50 L251,237.80 L252.5,234.50 Z" fill="#151515"/>
<text x="121.02" y="247.50" font-size="10" textLength="58.20" lengthAdjust="spacingAndGlyphs" stroke="#1c1c1c" stroke-width="0.1">pVEGFR2-AF488</text>
<rect x="0.5" y="0.5" width="519" height="612" fill="none" stroke="#000" stroke-width="1"/>
</svg></body></html>
